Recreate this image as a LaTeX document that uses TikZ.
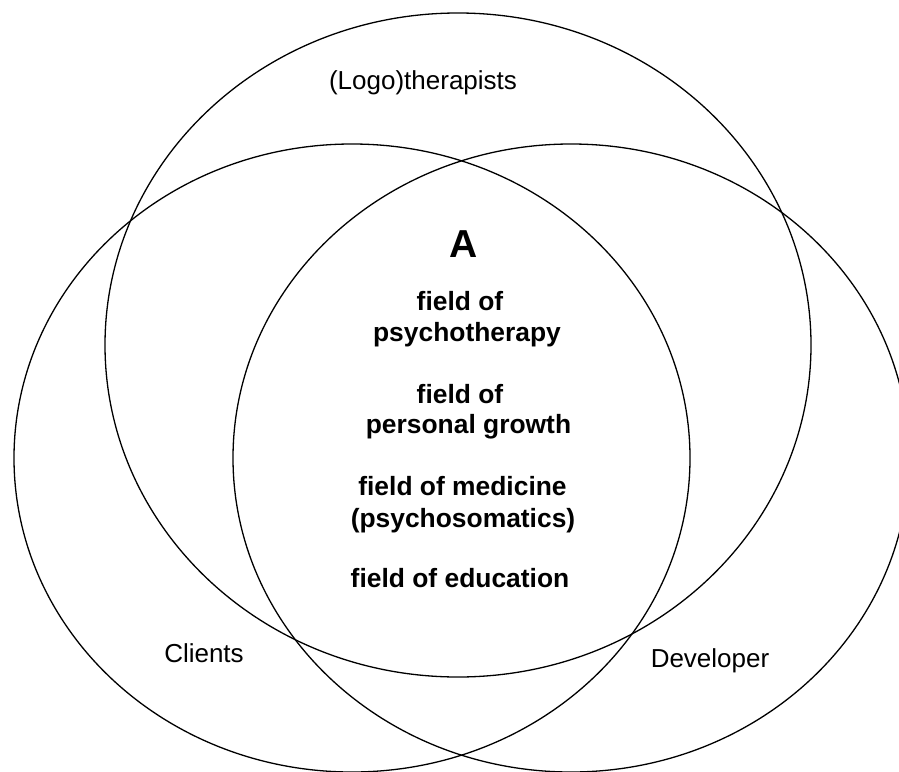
\documentclass[tikz,border=0pt]{standalone}
\usepackage{fontspec}
\setmainfont{Liberation Sans}
\begin{document}
\begin{tikzpicture}[x=1pt,y=-1pt,
  setline/.style={line width=1.3pt},
  setlabel/.style={anchor=base,inner sep=0pt,font=\fontsize{26}{30}\selectfont},
  fieldtext/.style={anchor=base,inner sep=0pt,font=\fontsize{26.4}{30}\selectfont\bfseries},
  bigletter/.style={anchor=base,inner sep=0pt,font=\fontsize{39}{44}\selectfont\bfseries}]
\useasboundingbox (0,0) rectangle (899,771);
% the three overlapping sets
\draw[setline] (458,345) ellipse [x radius=353pt, y radius=332pt];
\draw[setline] (352,458) ellipse [x radius=338pt, y radius=314pt];
\draw[setline] (571,458) ellipse [x radius=338pt, y radius=314pt];
% set labels
\node[setlabel] (therapists) at (423,89) {(Logo)therapists};
\node[setlabel] (clients) at (204,662) {Clients};
\node[setlabel] (developer) at (710,667) {Developer};
% common area
\node[bigletter] (A) at (464,257) {A};
\node[fieldtext] (f1a) at (460,310) {field of};
\node[fieldtext] (f1b) at (467,341) {psychotherapy};
\node[fieldtext] (f2a) at (460,403) {field of};
\node[fieldtext] (f2b) at (468.5,433) {personal growth};
\node[fieldtext] (f3a) at (462.5,495) {field of medicine};
\node[fieldtext] (f3b) at (463,527) {(psychosomatics)};
\node[fieldtext] (f4) at (460,587) {field of education};
\end{tikzpicture}
\end{document}
